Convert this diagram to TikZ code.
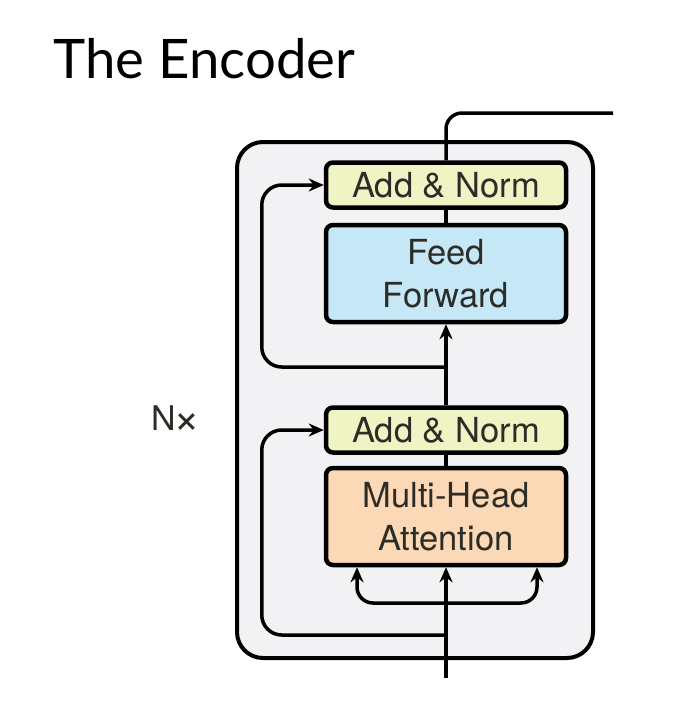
\documentclass[tikz,border=0pt]{standalone}
\usepackage{fontspec}
\setmainfont{Lato}
\newfontfamily\boxfont{TeX Gyre Heros}
\usetikzlibrary{arrows.meta, positioning, calc}
\definecolor{layerfill}{RGB}{242, 242, 244}
\definecolor{normfill}{RGB}{240, 244, 196}
\definecolor{fffill}{RGB}{198, 231, 246}
\definecolor{attfill}{RGB}{251, 216, 182}
\definecolor{boxtext}{RGB}{45, 45, 40}
\tikzset{
    layerbox/.style={rectangle, draw=black, fill=layerfill, line width=4pt, rounded corners=26pt, minimum width=356pt, minimum height=516pt},
    sublayer/.style={rectangle, draw=black, line width=4.5pt, rounded corners=7pt, minimum width=240pt, text centered, align=center, font=\boxfont\fontsize{34.5}{43}\selectfont, text=boxtext, inner sep=0pt},
    normbox/.style={sublayer, fill=normfill, minimum height=45pt},
    ffbox/.style={sublayer, fill=fffill, minimum height=97pt},
    attbox/.style={sublayer, fill=attfill, minimum height=97pt},
    flow/.style={draw, line width=3.5pt, color=black},
    flowarrow/.style={flow, -{Stealth[length=15pt, width=13pt]}}
}
\begin{document}
\begin{tikzpicture}[x=1pt, y=-1pt]
        \useasboundingbox (0,0) rectangle (692,712);

        \node [anchor=base west, font=\fontsize{54.5}{62}\selectfont] (title) at (50,78) {The Encoder};

        \node [layerbox] (layer) at (415,400) {};

        \node [attbox] (mha) at (446,516.5) {Multi-Head\\Attention};
        \node [normbox, above=11pt of mha] (norm1) {Add \& Norm};
        \node [ffbox] (ff) at (446,273.5) {Feed\\Forward};
        \node [normbox, above=13pt of ff] (norm2) {Add \& Norm};

        \node [font=\boxfont\fontsize{34}{40}\selectfont, text=boxtext] (nx) at (176,420) {N\kern-2pt\raisebox{-3pt}{\fontsize{46}{46}\selectfont ×}};

        \coordinate (input) at (446,678);
        \coordinate (split) at (446,603);
        \coordinate (res1) at (446,635);
        \coordinate (res2) at (446,367);
        \coordinate (out) at (613,113);

        % Draws
        \draw [flowarrow] (input) -- (mha.south);
        \draw [flowarrow, rounded corners=16pt] (split) -| ([xshift=-89pt]mha.south);
        \draw [flowarrow, rounded corners=16pt] (split) -| ([xshift=91pt]mha.south);
        \draw [flow] (mha) -- (norm1);
        \draw [flowarrow, rounded corners=20pt] (res1) -| ([xshift=-62pt]norm1.west) -- (norm1.west);
        \draw [flowarrow] (norm1) -- (ff);
        \draw [flowarrow, rounded corners=20pt] (res2) -| ([xshift=-62pt]norm2.west) -- (norm2.west);
        \draw [flow] (ff) -- (norm2);
        \draw [flow, rounded corners=16pt] (norm2.north) |- (out);

    \end{tikzpicture}
\end{document}
